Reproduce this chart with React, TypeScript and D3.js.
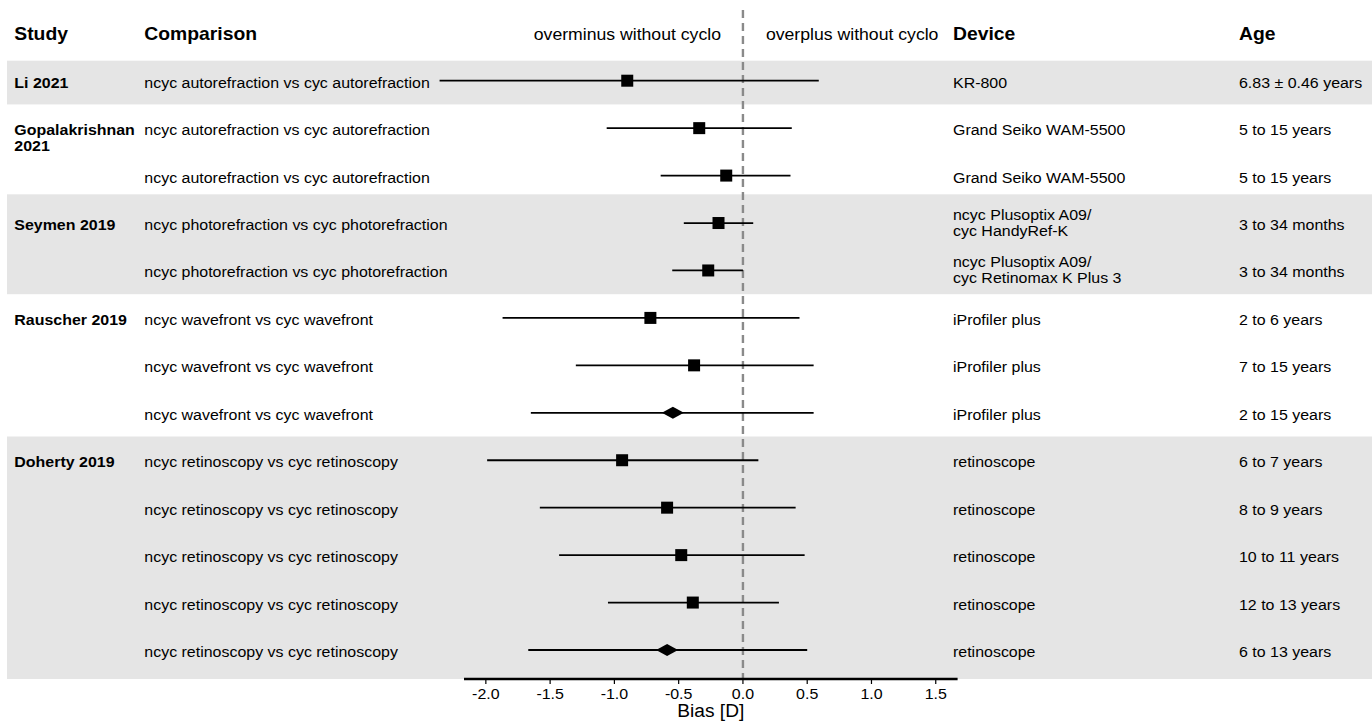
import React from "react";
import * as d3 from "d3";

// Forest plot: bias of non-cycloplegic vs cycloplegic refraction

const studies = ["Li 2021", "Gopalakrishnan\n2021", "", "Seymen 2019", "", "Rauscher 2019", "", "", "Doherty 2019", "", "", "", ""];
const groupOf = [0, 1, 1, 2, 2, 3, 3, 3, 4, 4, 4, 4, 4];
const comparisons = [
  "ncyc autorefraction vs cyc autorefraction",
  "ncyc autorefraction vs cyc autorefraction",
  "ncyc autorefraction vs cyc autorefraction",
  "ncyc photorefraction vs cyc photorefraction",
  "ncyc photorefraction vs cyc photorefraction",
  "ncyc wavefront vs cyc wavefront",
  "ncyc wavefront vs cyc wavefront",
  "ncyc wavefront vs cyc wavefront",
  "ncyc retinoscopy vs cyc retinoscopy",
  "ncyc retinoscopy vs cyc retinoscopy",
  "ncyc retinoscopy vs cyc retinoscopy",
  "ncyc retinoscopy vs cyc retinoscopy",
  "ncyc retinoscopy vs cyc retinoscopy",
];
const devices = [
  "KR-800",
  "Grand Seiko WAM-5500",
  "Grand Seiko WAM-5500",
  "ncyc Plusoptix A09/\ncyc HandyRef-K",
  "ncyc Plusoptix A09/\ncyc Retinomax K Plus 3",
  "iProfiler plus",
  "iProfiler plus",
  "iProfiler plus",
  "retinoscope",
  "retinoscope",
  "retinoscope",
  "retinoscope",
  "retinoscope",
];
const ages = [
  "6.83 ± 0.46 years",
  "5 to 15 years",
  "5 to 15 years",
  "3 to 34 months",
  "3 to 34 months",
  "2 to 6 years",
  "7 to 15 years",
  "2 to 15 years",
  "6 to 7 years",
  "8 to 9 years",
  "10 to 11 years",
  "12 to 13 years",
  "6 to 13 years",
];
const bias = [-0.9, -0.34, -0.13, -0.19, -0.27, -0.72, -0.38, -0.545, -0.94, -0.59, -0.48, -0.39, -0.59];
const lower = [-2.36, -1.06, -0.64, -0.46, -0.55, -1.87, -1.3, -1.65, -1.99, -1.58, -1.43, -1.05, -1.67];
const upper = [0.59, 0.38, 0.37, 0.08, 0.0, 0.44, 0.55, 0.55, 0.12, 0.41, 0.48, 0.28, 0.5];
const pooled = [false, false, false, false, false, false, false, true, false, false, false, false, true];
const xTicks = [-2, -1.5, -1, -0.5, 0, 0.5, 1, 1.5];

const W = 1372;
const H = 722;
const SX = 1.05; // the reference is a little wider than tall
const FONT = "'Liberation Sans', Arial, Helvetica, sans-serif";
const BAND = "#e5e5e5";
const BODY = 15.2;

const App = () => {
  const x = d3.scaleLinear().domain([-2.17, 1.67]).range([464, 957.6]);
  const y = d3.scaleLinear().domain([0, 12]).range([80.7, 650]);
  const step = y(1) - y(0);
  const axisY = 679;

  const col = { study: 14.3, comp: 144.3, device: 953, age: 1239 };

  const T = (props: { x: number; y: number; text: string; size?: number; bold?: boolean; anchor?: string; key?: any }) => (
    <text
      key={props.key}
      transform={`translate(${props.x},${props.y}) scale(${SX},1)`}
      fontSize={props.size ?? BODY}
      fontWeight={props.bold ? "bold" : "normal"}
      textAnchor={props.anchor ?? "start"}
      fontFamily={FONT}
      fill="#000"
    >
      {props.text}
    </text>
  );

  const multi = (s: string, cx: number, cy: number, bold: boolean, key: string, firstOnRow = false) => {
    const lines = s.split("\n");
    const lh = 16;
    const start = firstOnRow ? cy : cy - ((lines.length - 1) * lh) / 2;
    return lines.map((l, j) => T({ key: key + j, x: cx, y: start + j * lh + 5.5, text: l, bold }));
  };

  // shaded groups
  const groups = d3.groups(d3.range(groupOf.length), i => groupOf[i]);
  const bands = groups
    .filter(([g]) => g % 2 === 0)
    .map(([g, rows]) => {
      const i0 = rows[0];
      const i1 = rows[rows.length - 1];
      const tall = devices[i0].includes("\n") ? 5 : 0;
      const top = i0 === 0 ? y(0) - 20 : y(i0) - step / 2 - tall;
      const bottom = i1 === groupOf.length - 1 ? axisY : y(i1) + step / 2 + (devices[i1 + 1]?.includes("\n") ? -5 : 0);
      return { g, top, bottom };
    });

  return (
    <svg width={W} height={H} style={{ position: "absolute", left: 0, top: 0, background: "#fff" }}>
      {bands.map(b => (
        <rect key={b.g} x={7} y={b.top} width={W - 7} height={b.bottom - b.top} fill={BAND} />
      ))}

      {/* header */}
      {T({ x: col.study, y: 40, text: "Study", size: 18.4, bold: true })}
      {T({ x: col.comp, y: 40, text: "Comparison", size: 18.4, bold: true })}
      {T({ x: col.device, y: 40, text: "Device", size: 18.4, bold: true })}
      {T({ x: col.age, y: 40, text: "Age", size: 18.4, bold: true })}
      {T({ x: x(0) - 22, y: 40, text: "overminus without cyclo", size: 16.8, anchor: "end" })}
      {T({ x: x(0) + 23, y: 40, text: "overplus without cyclo", size: 16.8 })}

      {/* table text */}
      {studies.map((s, i) => (s ? multi(s, col.study, y(i) + 1.5, true, "s" + i, true) : null))}
      {comparisons.map((c, i) => T({ key: "c" + i, x: col.comp, y: y(i) + 7, text: c }))}
      {devices.map((d, i) => multi(d, col.device, y(i) + (d.includes("\n") ? -0.5 : 1.5), false, "d" + i))}
      {ages.map((a, i) => T({ key: "a" + i, x: col.age, y: y(i) + 7, text: a }))}

      {/* reference line */}
      <line x1={x(0)} x2={x(0)} y1={10} y2={axisY} stroke="#8a8a8a" strokeWidth={2.4} strokeDasharray="8,5" />

      {/* intervals and markers */}
      {bias.map((b, i) => (
        <g key={"m" + i}>
          <line x1={x(lower[i])} x2={x(upper[i])} y1={y(i)} y2={y(i)} stroke="#000" strokeWidth={1.8} />
          {pooled[i] ? (
            <path
              d={`M${x(b) - 11},${y(i)}L${x(b)},${y(i) - 6}L${x(b) + 11},${y(i)}L${x(b)},${y(i) + 6}Z`}
              fill="#000"
            />
          ) : (
            <rect x={x(b) - 6} y={y(i) - 6} width={12} height={12} fill="#000" />
          )}
        </g>
      ))}

      {/* x axis */}
      <line x1={x.range()[0]} x2={x.range()[1]} y1={axisY} y2={axisY} stroke="#000" strokeWidth={2.4} />
      {xTicks.map(t => (
        <g key={"t" + t}>
          <line x1={x(t)} x2={x(t)} y1={axisY} y2={axisY + 5} stroke="#000" strokeWidth={1.2} />
          {T({ x: x(t), y: axisY + 19.5, text: t.toFixed(1), anchor: "middle" })}
        </g>
      ))}
      {T({ x: (x.range()[0] + x.range()[1]) / 2, y: 717, text: "Bias [D]", size: 18.2, anchor: "middle" })}
    </svg>
  );
};

export default App;
